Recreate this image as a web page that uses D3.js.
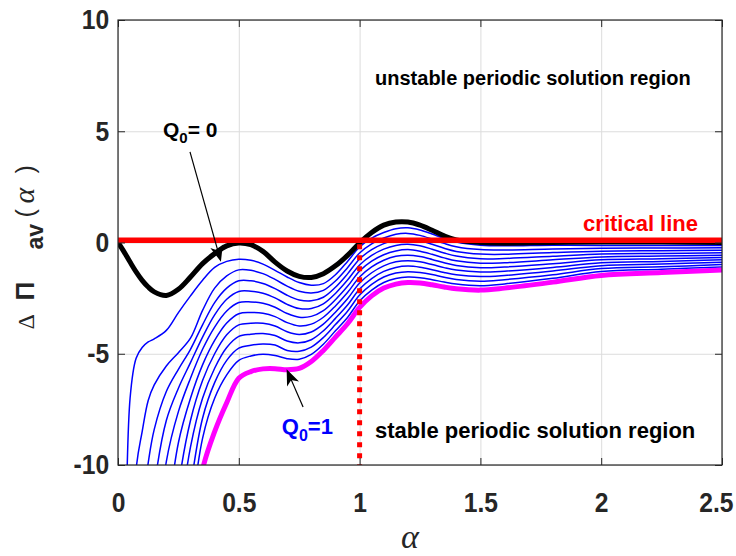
<!DOCTYPE html>
<html>
<head>
<meta charset="utf-8">
<script src="https://cdn.jsdelivr.net/npm/d3@7/dist/d3.min.js"></script>
<style>
body{margin:0;background:#fff}
text{font-family:"Liberation Sans",Arial,sans-serif}
</style>
</head>
<body>
<svg id="chart"></svg>
<script>
/* abscisse commune a toutes les courbes */
const alphaGrid = [0, 0.025, 0.05, 0.075, 0.1, 0.125, 0.15, 0.2, 0.25, 0.3, 0.35, 0.4, 0.45,
  0.5, 0.55, 0.6, 0.65, 0.7, 0.75, 0.8, 0.85, 0.9, 0.95, 1.0, 1.05, 1.1, 1.15, 1.2, 1.25, 1.3, 1.35, 1.4,
  1.5, 1.6, 1.8, 2.0, 2.25, 2.5]

/* Q0 = 0 (noir) */
const q00 = [0, -0.42, -0.88, -1.32, -1.7, -2.0, -2.22, -2.38, -2.1, -1.55, -0.95, -0.5, -0.15,
  -0.02, -0.1, -0.4, -0.88, -1.28, -1.52, -1.57, -1.4, -1.05, -0.58, -0.02, 0.45, 0.78, 0.92, 0.92, 0.78, 0.55, 0.3, 0.12,
  0.0, -0.03, 0.0, 0.02, 0.02, 0.0]

/* courbes intermediaires (bleu) */
const q01 = [-30, -18, -7.0, -5.2, -4.72, -4.47, -4.33, -3.95, -3.15, -2.4, -1.7, -1.12, -0.85,
  -0.75, -0.8, -0.97, -1.25, -1.55, -1.8, -1.92, -1.85, -1.45, -0.85, -0.2, 0.2, 0.45, 0.62, 0.66, 0.56, 0.38, 0.18, 0.02,
  -0.12, -0.15, -0.12, -0.13, -0.13, -0.13]
const q02 = [-30, -26, -20, -10.2, -8.5, -7.1, -6.4, -5.55, -4.95, -4.3, -3.05, -2.05, -1.5,
  -1.23, -1.25, -1.4, -1.66, -1.96, -2.19, -2.27, -2.15, -1.73, -1.13, -0.47, -0.06, 0.2, 0.37, 0.41, 0.32, 0.15, -0.04, -0.19,
  -0.32, -0.34, -0.29, -0.26, -0.25, -0.24]
const q03 = [-30, -30, -26, -20, -12, -9.9, -8.4, -6.7, -5.7, -4.8, -3.7, -2.7, -2.05,
  -1.72, -1.72, -1.84, -2.07, -2.37, -2.58, -2.62, -2.46, -2.01, -1.41, -0.74, -0.32, -0.05, 0.12, 0.17, 0.08, -0.08, -0.26, -0.4,
  -0.52, -0.53, -0.45, -0.39, -0.37, -0.35]
const q04 = [-30, -30, -30, -26, -20, -14, -11, -8.0, -6.55, -5.4, -4.25, -3.25, -2.55,
  -2.2, -2.19, -2.28, -2.49, -2.78, -2.97, -2.97, -2.76, -2.29, -1.69, -1.01, -0.58, -0.3, -0.13, -0.08, -0.15, -0.3, -0.47, -0.61,
  -0.73, -0.72, -0.62, -0.52, -0.49, -0.46]
const q05 = [-30, -30, -30, -30, -26, -20, -15, -9.85, -7.6, -6.1, -4.8, -3.8, -3.08,
  -2.7, -2.67, -2.73, -2.91, -3.19, -3.36, -3.32, -3.06, -2.57, -1.97, -1.28, -0.84, -0.55, -0.38, -0.32, -0.39, -0.53, -0.69, -0.82,
  -0.93, -0.91, -0.78, -0.65, -0.61, -0.57]
const q06 = [-30, -30, -30, -30, -30, -26, -20, -13, -9.0, -7.0, -5.5, -4.4, -3.62,
  -3.2, -3.15, -3.18, -3.33, -3.6, -3.75, -3.67, -3.36, -2.85, -2.25, -1.55, -1.1, -0.8, -0.62, -0.57, -0.63, -0.76, -0.91, -1.03,
  -1.13, -1.1, -0.95, -0.78, -0.73, -0.67]
const q07 = [-30, -30, -30, -30, -30, -30, -24, -17, -11, -8.0, -6.2, -5.0, -4.15,
  -3.7, -3.63, -3.63, -3.75, -4.01, -4.13, -4.02, -3.67, -3.13, -2.53, -1.82, -1.36, -1.05, -0.87, -0.82, -0.87, -0.99, -1.13, -1.24,
  -1.33, -1.29, -1.12, -0.91, -0.85, -0.78]
const q08 = [-30, -30, -30, -30, -30, -30, -26, -19, -13, -9.2, -7.0, -5.65, -4.72,
  -4.22, -4.12, -4.09, -4.18, -4.43, -4.51, -4.37, -3.97, -3.41, -2.81, -2.09, -1.62, -1.3, -1.12, -1.06, -1.11, -1.22, -1.35, -1.45,
  -1.53, -1.48, -1.28, -1.04, -0.97, -0.89]
const q09 = [-30, -30, -30, -30, -30, -30, -28, -22, -15, -11.0, -7.9, -6.3, -5.3,
  -4.75, -4.62, -4.56, -4.61, -4.85, -4.89, -4.7, -4.27, -3.69, -3.09, -2.36, -1.88, -1.55, -1.37, -1.31, -1.35, -1.44, -1.56, -1.66,
  -1.74, -1.67, -1.45, -1.17, -1.09, -0.99]
const q10 = [-30, -30, -30, -30, -30, -30, -30, -24, -17, -12.5, -8.8, -7.0, -5.95,
  -5.3, -5.1, -5.02, -5.08, -5.22, -5.25, -5.03, -4.57, -3.97, -3.37, -2.63, -2.14, -1.8, -1.62, -1.55, -1.58, -1.67, -1.78, -1.87,
  -1.94, -1.86, -1.61, -1.3, -1.2, -1.1]

/* Q0 = 1 (magenta) */
const q11 = [-30, -30, -30, -30, -30, -30, -30, -26, -19, -14, -10.2, -8.5, -7.2,
  -6.1, -5.8, -5.68, -5.67, -5.72, -5.66, -5.35, -4.85, -4.25, -3.65, -2.92, -2.4, -2.05, -1.87, -1.8, -1.82, -1.9, -2.0, -2.08,
  -2.14, -2.05, -1.78, -1.48, -1.35, -1.24]

const blueCurves = [q01, q02, q03, q04, q05, q06, q07, q08, q09, q10]

const criticalValue = 0.1   /* ligne critique */
const criticalAlpha = 1     /* ligne verticale pointillee */

const xTicks = [0, 0.5, 1, 1.5, 2, 2.5]
const yTicks = [-10, -5, 0, 5, 10]

/* ancres des annotations en coordonnees du graphe [alpha, valeur] */
const arrowQ0 = [[0.298, 4.07], [0.426, -0.86]]
const arrowQ1 = [[0.766, -7.39], [0.698, -5.7]]
const posUnstable = [1.064, 7.1]
const posStable = [1.064, -8.8]
const posCritical = [1.925, 0.52]
const posQ0 = [0.186, 4.75]
const posQ1 = [0.678, -8.6]

const width = 736, height = 556
const margin = {top: 20, right: 14, bottom: 91, left: 118}

const x = d3.scaleLinear().domain([0, 2.5]).range([margin.left, width - margin.right])
const y = d3.scaleLinear().domain([-10, 10]).range([height - margin.bottom, margin.top])

const svg = d3.select('#chart').attr('width', width).attr('height', height)

const axisColor = '#262626'

/* grille */
svg.append('g')
  .attr('transform', `translate(0,${y(-10)})`)
  .call(d3.axisBottom(x).tickValues(xTicks).tickSize(-(y(-10) - y(10))).tickFormat(''))
  .call(g => g.select('.domain').remove())
  .selectAll('line').attr('stroke', '#dcdcdc').attr('stroke-width', 1)

svg.append('g')
  .attr('transform', `translate(${x(0)},0)`)
  .call(d3.axisLeft(y).tickValues(yTicks).tickSize(-(x(2.5) - x(0))).tickFormat(''))
  .call(g => g.select('.domain').remove())
  .selectAll('line').attr('stroke', '#dcdcdc').attr('stroke-width', 1)

/* courbes, coupees au cadre */
svg.append('clipPath').attr('id', 'plotClip')
  .append('rect')
  .attr('x', x(0)).attr('y', y(10))
  .attr('width', x(2.5) - x(0)).attr('height', y(-10) - y(10))

const line = d3.line()
  .x((d, i) => x(alphaGrid[i]))
  .y(d => y(d))
  .curve(d3.curveCatmullRom.alpha(0.5))

const curves = svg.append('g').attr('clip-path', 'url(#plotClip)')

curves.selectAll('path.blue')
  .data(blueCurves)
  .enter()
  .append('path')
  .attr('class', 'blue')
  .attr('d', line)
  .attr('fill', 'none')
  .attr('stroke', '#0000ff')
  .attr('stroke-width', 1.5)

curves.append('path')
  .attr('d', line(q00))
  .attr('fill', 'none')
  .attr('stroke', '#000')
  .attr('stroke-width', 5)

curves.append('path')
  .attr('d', line(q11))
  .attr('fill', 'none')
  .attr('stroke', '#ff00ff')
  .attr('stroke-width', 5)

/* ligne critique */
curves.append('line')
  .attr('x1', x(0)).attr('x2', x(2.5))
  .attr('y1', y(criticalValue)).attr('y2', y(criticalValue))
  .attr('stroke', '#ff0000')
  .attr('stroke-width', 5.5)

curves.append('line')
  .attr('x1', x(criticalAlpha)).attr('x2', x(criticalAlpha))
  .attr('y1', y(criticalValue) + 4).attr('y2', y(-10))
  .attr('stroke', '#ff0000')
  .attr('stroke-width', 5)
  .attr('stroke-dasharray', '5,6')

/* axes */
const xAxis = svg.append('g')
  .attr('transform', `translate(0,${y(-10)})`)
  .call(d3.axisBottom(x).tickValues(xTicks).tickSizeInner(-7).tickSizeOuter(0).tickPadding(27).tickFormat(d => String(d)))

const yAxis = svg.append('g')
  .attr('transform', `translate(${x(0)},0)`)
  .call(d3.axisLeft(y).tickValues(yTicks).tickSizeInner(-7).tickSizeOuter(0).tickPadding(10).tickFormat(d => String(d)))

svg.append('g')
  .attr('transform', `translate(0,${y(10)})`)
  .call(d3.axisTop(x).tickValues(xTicks).tickSizeInner(-7).tickSizeOuter(0).tickFormat(''))

svg.append('g')
  .attr('transform', `translate(${x(2.5)},0)`)
  .call(d3.axisRight(y).tickValues(yTicks).tickSizeInner(-7).tickSizeOuter(0).tickFormat(''))

svg.selectAll('.domain').attr('stroke', 'none')
svg.selectAll('.tick line').filter(function () { return this.getAttribute('stroke') !== '#dcdcdc' })
  .attr('stroke', axisColor)

/* chiffres un peu etroits comme dans l'original */
for (const g of [xAxis, yAxis]) {
  g.selectAll('text')
    .attr('fill', axisColor)
    .attr('transform', 'scale(0.88,1)')
    .style('font-family', '"Liberation Sans",Arial,sans-serif')
    .style('font-size', '28px')
    .style('font-weight', 'bold')
}
/* le dernier chiffre reste dans la fenetre */
xAxis.selectAll('text').filter(d => d === 2.5).attr('dx', -7)

/* cadre */
svg.append('rect')
  .attr('x', x(0)).attr('y', y(10))
  .attr('width', x(2.5) - x(0)).attr('height', y(-10) - y(10))
  .attr('fill', 'none')
  .attr('stroke', axisColor)
  .attr('stroke-width', 1.2)

/* titres des axes */
svg.append('text')
  .attr('x', 410).attr('y', 548)
  .attr('text-anchor', 'middle')
  .style('font-family', '"Liberation Serif","DejaVu Serif",serif')
  .style('font-style', 'italic')
  .style('font-size', '34px')
  .attr('fill', axisColor)
  .text('α')

const yLabel = svg.append('text')
  .attr('transform', `translate(34,${y(0) - 3}) rotate(-90)`)
  .attr('fill', axisColor)

yLabel.append('tspan').attr('x', -90).attr('y', 0)
  .style('font-family', '"Liberation Serif",serif').style('font-size', '24px')
  .text('Δ')
yLabel.append('tspan').attr('x', -61).attr('y', 0)
  .style('font-size', '26px').style('font-weight', 'bold')
  .text('Π')
yLabel.append('tspan').attr('x', -10).attr('y', 9)
  .style('font-size', '23px').style('font-weight', 'bold')
  .text('av')
yLabel.append('tspan').attr('x', 22).attr('y', 0)
  .style('font-size', '25px')
  .text('(')
yLabel.append('tspan').attr('x', 36).attr('y', 0)
  .style('font-family', '"Liberation Serif",serif').style('font-style', 'italic').style('font-size', '30px')
  .text('α')
yLabel.append('tspan').attr('x', 66).attr('y', 0)
  .style('font-size', '25px')
  .text(')')

/* fleches */
const drawArrow = (anchors) => {
  const [tx, ty] = [x(anchors[0][0]), y(anchors[0][1])]
  const [px, py] = [x(anchors[1][0]), y(anchors[1][1])]
  const len = Math.hypot(px - tx, py - ty)
  const ux = (px - tx) / len, uy = (py - ty) / len
  const nx = -uy, ny = ux
  const L = 16, W = 6.5
  const nX = px - 0.72 * L * ux, nY = py - 0.72 * L * uy
  svg.append('line')
    .attr('x1', tx).attr('y1', ty).attr('x2', nX).attr('y2', nY)
    .attr('stroke', '#000').attr('stroke-width', 1.2)
  svg.append('path')
    .attr('d', `M${px},${py}L${px - L * ux + W * nx},${py - L * uy + W * ny}L${nX},${nY}L${px - L * ux - W * nx},${py - L * uy - W * ny}Z`)
    .attr('fill', '#000')
}
drawArrow(arrowQ0)
drawArrow(arrowQ1)

/* textes */
const bold = (sel, size, color) => sel
  .style('font-size', size + 'px').style('font-weight', 'bold').attr('fill', color)

bold(svg.append('text').attr('x', x(posUnstable[0])).attr('y', y(posUnstable[1])), 20, '#000')
  .text('unstable periodic solution region')
bold(svg.append('text').attr('x', x(posStable[0])).attr('y', y(posStable[1])), 22, '#000')
  .text('stable periodic solution region')
bold(svg.append('text').attr('x', x(posCritical[0])).attr('y', y(posCritical[1])), 22, '#ff0000')
  .text('critical line')

const q0Label = bold(svg.append('text').attr('x', x(posQ0[0])).attr('y', y(posQ0[1])), 21, '#000')
q0Label.append('tspan').text('Q')
q0Label.append('tspan').attr('dy', 6).style('font-size', '15px').text('0')
q0Label.append('tspan').attr('dy', -6).text('= 0')

const q1Label = bold(svg.append('text').attr('x', x(posQ1[0])).attr('y', y(posQ1[1])), 22, '#0000ff')
q1Label.append('tspan').text('Q')
q1Label.append('tspan').attr('dy', 7).style('font-size', '16px').text('0')
q1Label.append('tspan').attr('dy', -7).text('=1')
</script>
</body>
</html>
